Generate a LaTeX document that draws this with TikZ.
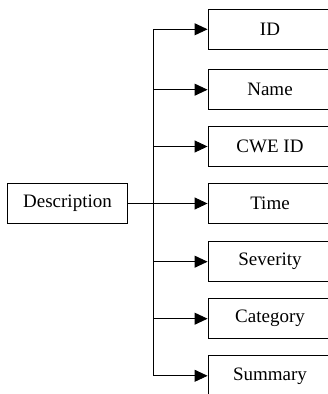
\documentclass[tikz,border=0pt]{standalone}
\usepackage{fontspec}
\setmainfont{Liberation Serif}
\usetikzlibrary{arrows.meta}
\begin{document}
\begin{tikzpicture}[x=1pt,y=1pt,
  box/.style={draw=black, line width=0.9pt, minimum height=40.5pt, inner sep=0pt, font=\fontsize{19}{22}\selectfont},
  leaf/.style={box, minimum width=124pt},
  link/.style={draw=black, line width=0.9pt},
  arr/.style={link, -{Triangle[length=13pt,width=12pt]}}]
\useasboundingbox (0,0) rectangle (328,394);
\node[box, minimum width=120.4pt] (desc) at (67.5,190.5) {Description};
\node[leaf] (id)  at (270,364.7) {ID};
\node[leaf] (nm)  at (270,304.3) {Name};
\node[leaf] (cwe) at (270,247.5) {CWE ID};
\node[leaf] (tm)  at (270,190.5) {Time};
\node[leaf] (sev) at (270,132.3) {Severity};
\node[leaf] (cat) at (270,75.3) {Category};
\node[leaf] (sum) at (270,18.2) {Summary};
\coordinate (j) at (153,190.5);
\draw[link] (desc.east) -- (j);
\draw[link] (j |- id.west) -- (j |- sum.west);
\foreach \b in {id,nm,cwe,tm,sev,cat,sum}{
  \draw[arr] (j |- \b.west) -- (\b.west);
}
\end{tikzpicture}
\end{document}
